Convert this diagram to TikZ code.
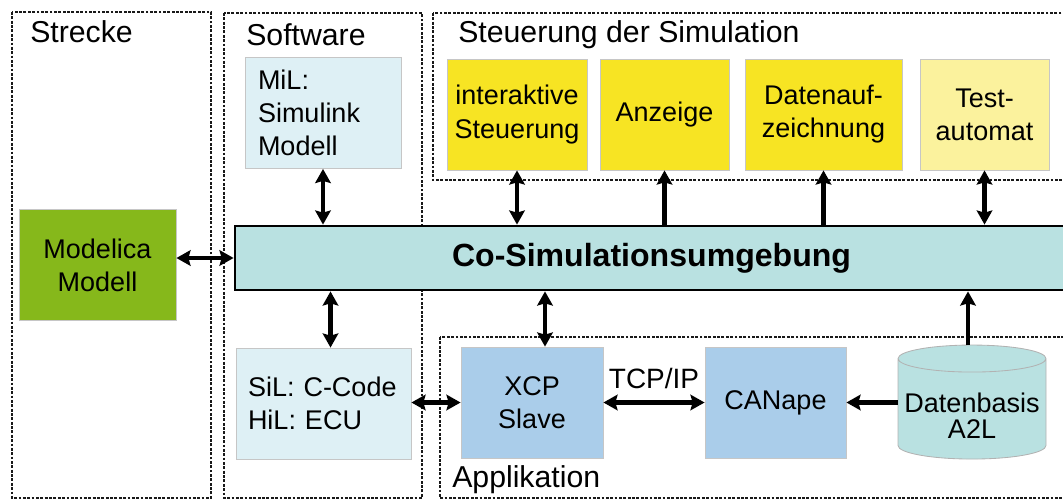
\documentclass[tikz,border=0pt]{standalone}
\usepackage{fontspec}
\setmainfont{Liberation Sans}
\usetikzlibrary{positioning, arrows.meta, shapes.geometric}

\newcommand{\pu}{0.025cm}

\begin{document}
\begin{tikzpicture}[
    x=0.025cm, y=-0.025cm,
    box/.style={draw=gray!45, line width=0.6pt, minimum width=#1*\pu, minimum height=111*\pu, inner sep=0pt, align=center, font=\fontsize{19.2}{23.5}\selectfont},
    frame/.style={draw=black!90, line width=2.1pt, dash pattern=on 2pt off 1.1pt},
    frametitle/.style={anchor=west, inner sep=0pt, font=\fontsize{21.5}{25}\selectfont},
    arr/.style={line width=3pt, -{Stealth[length=10pt, width=11pt, inset=1.5pt]}},
    darr/.style={line width=3pt, {Stealth[length=10pt, width=11pt, inset=1.5pt]}-{Stealth[length=10pt, width=11pt, inset=1.5pt]}}
]

    % Define colors
    \definecolor{modgreen}{RGB}{134, 184, 27}
    \definecolor{swblue}{RGB}{222, 240, 245}
    \definecolor{ctrlyellow}{RGB}{247, 228, 35}
    \definecolor{testyellow}{RGB}{251, 242, 157}
    \definecolor{appblue}{RGB}{170, 205, 234}
    \definecolor{cosimcyan}{RGB}{185, 225, 225}

    \useasboundingbox (0,0) rectangle (1063,501);
    \clip (0,0) rectangle (1063,501);

    % Strecke
    \draw[frame] (12,12) rectangle (211,498);
    \node[frametitle] (tstrecke) at (30,32) {Strecke};
    \node[box=157, fill=modgreen] (modelica) at (97.5,265) {Modelica\\Modell};

    % Software
    \draw[frame] (224,13) rectangle (422,498);
    \node[frametitle] (tsoftware) at (246,35) {Software};
    \node[box=156, fill=swblue, text width=130*\pu, align=left] (mil) at (323,113) {MiL:\\Simulink\\Modell};
    \node[box=175, fill=swblue, text width=151*\pu, align=left] (sil) at (323.5,403.5) {SiL: C-Code\\HiL: ECU};

    % Steuerung der Simulation
    \draw[frame] (433,13) rectangle (1075,180);
    \node[frametitle] (tsteuer) at (458,35) {Steuerung der Simulation};
    \node[box=140, fill=ctrlyellow] (inter) at (517,114.5) {interaktive\\Steuerung};
    \node[box=129, fill=ctrlyellow] (anzeige) at (664.5,114.5) {Anzeige};
    \node[box=157, fill=ctrlyellow] (daten) at (823.5,114.5) {Datenauf-\\zeichnung};
    \node[box=129, fill=testyellow] (test) at (984.5,114.5) {Test-\\automat};

    % Applikation
    \draw[frame] (440,337) rectangle (1075,498);
    \node[frametitle] (tappl) at (452,480) {Applikation};
    \node[box=142, fill=appblue] (xcp) at (532,402.5) {XCP\\Slave};
    \node[box=141, fill=appblue] (canape) at (775.5,402.5) {CANape};
    \node[cylinder, shape border rotate=90, aspect=0.2, draw=gray!60, line width=0.6pt, fill=cosimcyan,
          minimum width=148*\pu, minimum height=114*\pu, inner sep=0pt, align=center,
          font=\fontsize{19.2}{18.5}\selectfont] (db) at (972,409) {\rule{0pt}{24pt}Datenbasis\\A2L};

    % Co-Simulation bar
    \node[draw, line width=2pt, fill=cosimcyan, minimum width=833*\pu, minimum height=64*\pu,
          font=\bfseries\fontsize{22.8}{27}\selectfont] (cosim) at (651.5,258) {Co-Simulationsumgebung};

    % Connections to the bar
    \coordinate (silup) at ([xshift=7*\pu]sil.north);
    \coordinate (xcpup) at ([xshift=13*\pu]xcp.north);
    \draw[darr] (modelica.east |- cosim.west) -- (cosim.west);
    \draw[darr] (mil) -- (mil |- cosim.north);
    \draw[darr] (silup) -- (silup |- cosim.south);
    \draw[darr] (inter) -- (inter |- cosim.north);
    \draw[arr] (anzeige |- cosim.north) -- (anzeige);
    \draw[arr] (daten |- cosim.north) -- (daten);
    \draw[darr] (test) -- (test |- cosim.north);
    \draw[darr] (xcpup) -- (xcpup |- cosim.south);
    \draw[arr] ([xshift=-4*\pu]db.north) -- ([xshift=-4*\pu]db.north |- cosim.south);

    % Horizontal links
    \draw[darr] (sil.east |- xcp.west) -- (xcp.west);
    \draw[darr] (xcp) -- node[above=12*\pu, inner sep=0pt, font=\fontsize{19.9}{24}\selectfont] (tcp) {TCP/IP} (canape);
    \draw[arr] (db.west |- canape.east) -- (canape.east);

\end{tikzpicture}
\end{document}
